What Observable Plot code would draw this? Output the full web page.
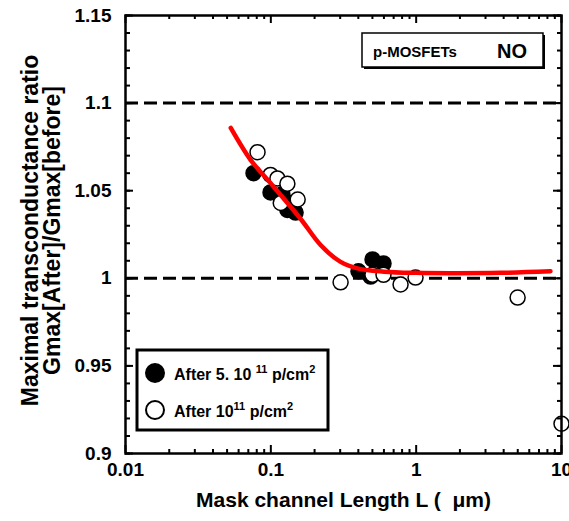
<!DOCTYPE html>
<html><head><meta charset="utf-8">
<script src="https://cdn.jsdelivr.net/npm/d3@7"></script>
<script src="https://cdn.jsdelivr.net/npm/@observablehq/plot@0.6"></script>
<style>body{margin:0;background:#fff}svg{display:block}</style>
</head><body><div id="chart"></div>
<script>
// Series: After 5.10^11 p/cm^2 (filled)
const filledL = [0.076, 0.0995, 0.120, 0.130, 0.137, 0.148, 0.401, 0.486, 0.501, 0.596];
const filledG = [1.060, 1.049, 1.048, 1.039, 1.043, 1.0375, 1.004, 1.001, 1.0108, 1.0085];
// Series: After 10^11 p/cm^2 (open)
const openL = [0.081, 0.0995, 0.111, 0.130, 0.153, 0.117, 0.302, 0.50, 0.596, 0.781, 0.99, 4.99, 10];
const openG = [1.072, 1.059, 1.057, 1.054, 1.045, 1.043, 0.9977, 1.002, 1.002, 0.9965, 1.0004, 0.989, 0.917];
// Red fit curve
const fitL = [0.053, 0.0725, 0.0949, 0.160, 0.22, 0.30, 0.40, 0.60, 1.0, 1.72, 3.81, 8.4];
const fitG = [1.0858, 1.0676, 1.0563, 1.034, 1.019, 1.0095, 1.0055, 1.0038, 1.0031, 1.0029, 1.0031, 1.004];
// Reference dashed lines
const refLines = [1.0, 1.1];
// Ticks
const yMajor = [0.9, 0.95, 1.0, 1.05, 1.1, 1.15];
const yMinor = d3.range(0, 26).map(i => +(0.9 + i * 0.01).toFixed(2));
const xMajor = [0.01, 0.1, 1, 10];
const xMinor = [0.01, 0.1, 1].flatMap(k => [2,3,4,5,6,7,8,9].map(m => +(m * k).toPrecision(2)));

const filled = filledL.map((l, i) => ({L: l, G: filledG[i]}));
const open = openL.map((l, i) => ({L: l, G: openG[i]}));
const fit = fitL.map((l, i) => ({L: l, G: fitG[i]}));

const W = 569, H = 521, mL = 125, mR = 8, mT = 15, mB = 68;
const fw = W - mL - mR, fh = H - mT - mB;

const plot = Plot.plot({
  width: W, height: H,
  marginLeft: mL, marginRight: mR, marginTop: mT, marginBottom: mB,
  style: {fontFamily: "'Liberation Sans', Arial, sans-serif", fontWeight: "bold", fontSize: "19px", color: "black", background: "white", overflow: "visible"},
  x: {type: "log", domain: [0.01, 10]},
  y: {domain: [0.9, 1.15]},
  marks: [
    Plot.ruleY(refLines, {stroke: "black", strokeWidth: 3, strokeDasharray: "13,6"}),
    Plot.dot(filled, {x: "L", y: "G", r: 7.5, fill: "black", stroke: "black"}),
    Plot.dot(open, {x: "L", y: "G", r: 7.5, fill: "white", stroke: "black", strokeWidth: 1.5}),
    Plot.line(fit, {x: "L", y: "G", stroke: "#ff0000", strokeWidth: 4.5, curve: "catmull-rom"}),
    // inward ticks
    Plot.tickY(yMajor, {y: d => d, insetRight: fw - 8, stroke: "black", strokeWidth: 2}),
    Plot.tickY(yMinor, {y: d => d, insetRight: fw - 5, stroke: "black", strokeWidth: 2}),
    Plot.tickY(yMajor, {y: d => d, insetLeft: fw - 8, stroke: "black", strokeWidth: 2}),
    Plot.tickY(yMinor, {y: d => d, insetLeft: fw - 4, stroke: "black", strokeWidth: 2}),
    Plot.tickX(xMajor, {x: d => d, insetTop: fh - 8, stroke: "black", strokeWidth: 2}),
    Plot.tickX(xMinor, {x: d => d, insetTop: fh - 4, stroke: "black", strokeWidth: 2}),
    Plot.tickX(xMajor, {x: d => d, insetBottom: fh - 8, stroke: "black", strokeWidth: 2}),
    Plot.tickX(xMinor, {x: d => d, insetBottom: fh - 4, stroke: "black", strokeWidth: 2}),
    Plot.axisY(yMajor, {tickSize: 0, tickPadding: 14, tickFormat: d => String(d), label: null, fontSize: 19, fontWeight: "bold"}),
    Plot.axisX(xMajor, {tickSize: 0, tickPadding: 9, tickFormat: d => String(d), label: null, fontSize: 19, fontWeight: "bold"}),
    Plot.frame({stroke: "black", strokeWidth: 2.5}),
    Plot.text(["Mask channel Length L (  \u03bcm)"], {frameAnchor: "bottom", dx: 0, dy: 53, fontSize: 21, fontWeight: "bold"}),
    Plot.text(["Maximal transconductance ratio"], {frameAnchor: "left", textAnchor: "middle", rotate: -90, dx: -95, dy: -4, fontSize: 23, fontWeight: "bold"}),
    Plot.text(["Gmax[After]/Gmax[before]"], {frameAnchor: "left", textAnchor: "middle", rotate: -90, dx: -73, dy: -4, fontSize: 23, fontWeight: "bold"})
  ]
});

const svg = d3.select(plot);
const ff = "'Liberation Sans', Arial, sans-serif";
// legend
const lg = svg.append("g").attr("text-anchor", "start");
lg.append("rect").attr("x", 137).attr("y", 350).attr("width", 191).attr("height", 80)
  .attr("fill", "white").attr("stroke", "black").attr("stroke-width", 3);
lg.append("circle").attr("cx", 155).attr("cy", 373).attr("r", 10).attr("fill", "black");
lg.append("circle").attr("cx", 155).attr("cy", 410).attr("r", 9).attr("fill", "white").attr("stroke", "black").attr("stroke-width", 2);
const t1 = lg.append("text").attr("x", 174).attr("y", 380).attr("text-anchor", "start").attr("font-family", ff).attr("font-weight", "bold").attr("font-size", 16);
t1.append("tspan").text("After 5. 10 ");
t1.append("tspan").attr("font-size", 11).attr("dy", -7).text("11");
t1.append("tspan").attr("dy", 7).text(" p/cm");
t1.append("tspan").attr("font-size", 11).attr("dy", -7).text("2");
const t2 = lg.append("text").attr("x", 174).attr("y", 417).attr("text-anchor", "start").attr("font-family", ff).attr("font-weight", "bold").attr("font-size", 16);
t2.append("tspan").text("After 10");
t2.append("tspan").attr("font-size", 11).attr("dy", -7).text("11");
t2.append("tspan").attr("dy", 7).text(" p/cm");
t2.append("tspan").attr("font-size", 11).attr("dy", -7).text("2");
// annotation box
const ab = svg.append("g").attr("text-anchor", "start");
ab.append("rect").attr("x", 364).attr("y", 35).attr("width", 181).attr("height", 34).attr("fill", "black");
ab.append("rect").attr("x", 362).attr("y", 33).attr("width", 181).attr("height", 34)
  .attr("fill", "white").attr("stroke", "black").attr("stroke-width", 1.5);
ab.append("text").attr("x", 373).attr("y", 57).attr("text-anchor", "start").attr("font-family", ff).attr("font-weight", "bold").attr("font-size", 15).text("p-MOSFETs");
ab.append("text").attr("x", 497).attr("y", 58).attr("text-anchor", "start").attr("font-family", ff).attr("font-weight", "bold").attr("font-size", 20).text("NO");

document.getElementById("chart").appendChild(plot);
</script>
</body></html>
